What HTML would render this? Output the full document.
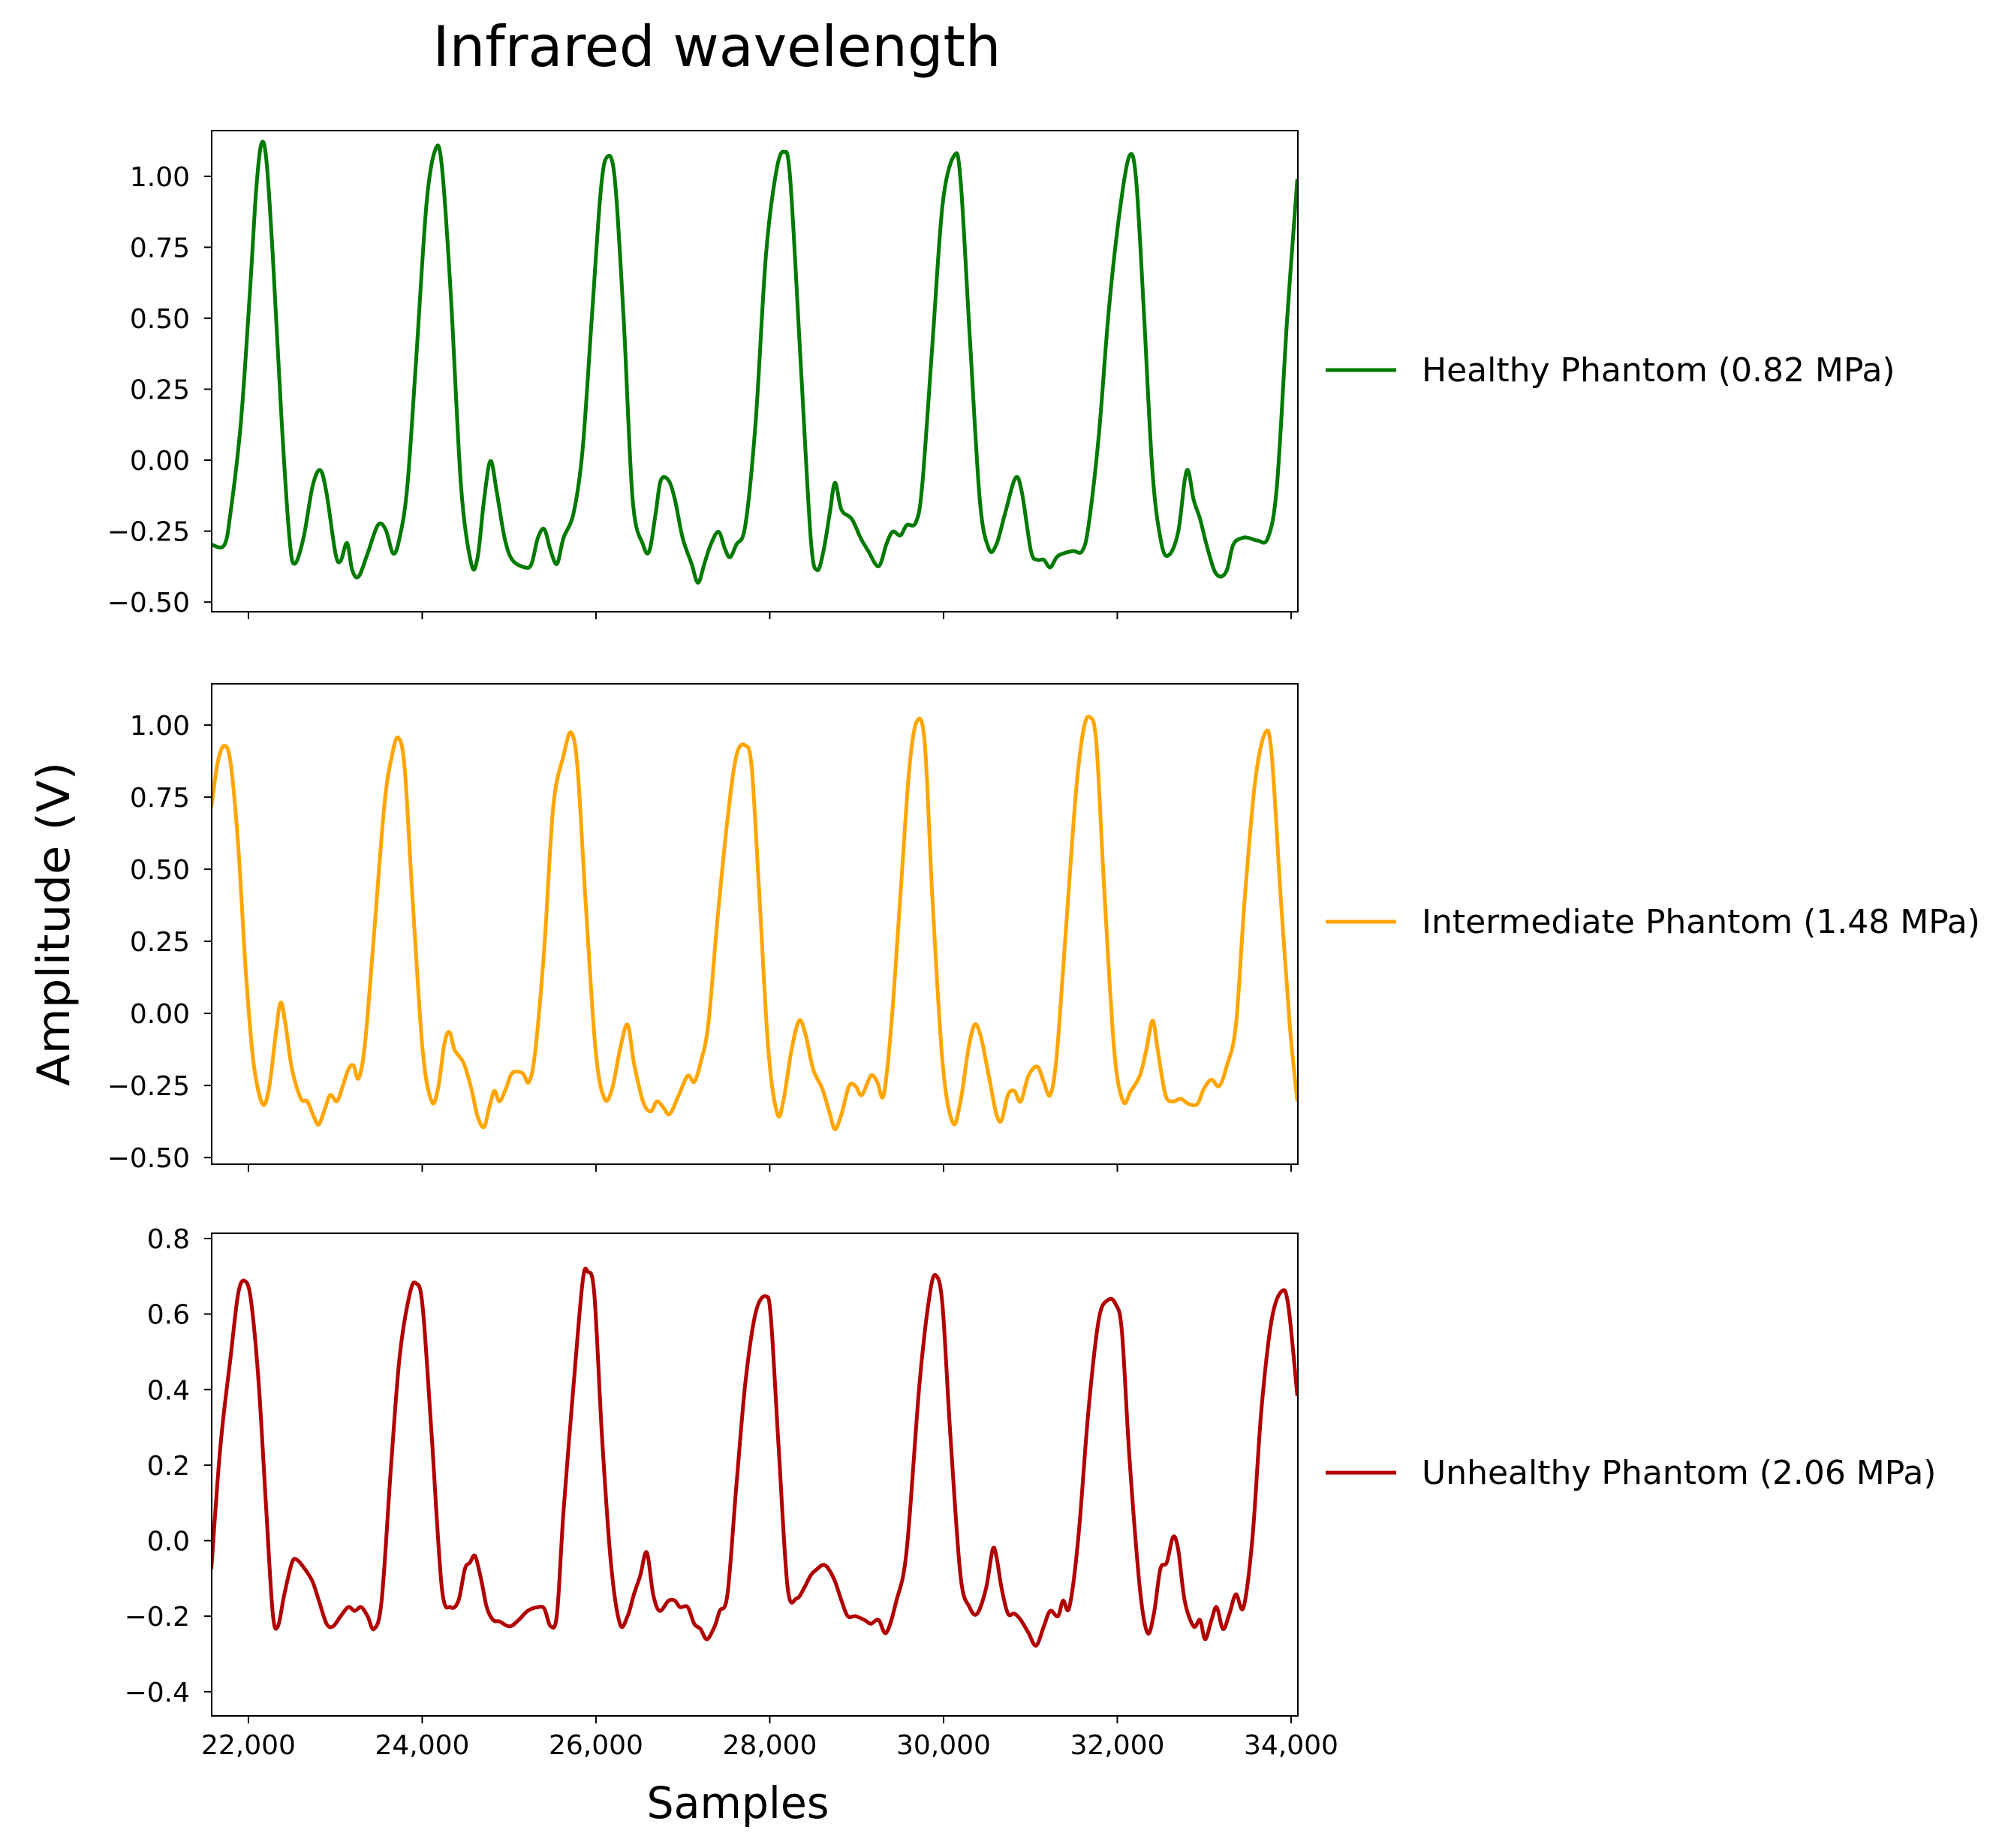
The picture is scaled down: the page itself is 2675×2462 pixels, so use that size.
<!DOCTYPE html>
<html><head><meta charset="utf-8"><style>html,body{margin:0;padding:0;background:#fff}svg{display:block}text{font-family:"DejaVu Sans","Liberation Sans",sans-serif;fill:#000}</style></head>
<body>
<svg id="chart" xmlns="http://www.w3.org/2000/svg" width="2675" height="2462" viewBox="0 0 2675 2462">
<rect width="2675" height="2462" fill="#fff"/>
<text x="955" y="88" font-size="75" text-anchor="middle" textLength="757" lengthAdjust="spacingAndGlyphs">Infrared wavelength</text>
<text x="983" y="2422" font-size="58" text-anchor="middle" textLength="243" lengthAdjust="spacingAndGlyphs">Samples</text>
<text transform="translate(92,1231) rotate(-90)" font-size="60" text-anchor="middle" textLength="432" lengthAdjust="spacingAndGlyphs">Amplitude (V)</text>
<g id="plots"></g>
</svg>
<script>
const xTicks=[22000,24000,26000,28000,30000,32000,34000];
const xTickLabels=["22,000","24,000","26,000","28,000","30,000","32,000","34,000"];
const xDomain=[21577,34078];

const healthyX=[21573,21720,21794,21912,22015,22088,22147,22206,22280,22383,22472,22531,22634,22737,22825,22899,23002,23061,23135,23194,23268,23371,23489,23577,23666,23739,23828,23931,24049,24152,24226,24329,24447,24565,24638,24712,24786,24860,24948,25036,25184,25258,25331,25405,25479,25552,25626,25744,25847,25950,26054,26127,26216,26319,26422,26540,26614,26688,26746,26835,26908,26997,27100,27174,27247,27321,27410,27483,27542,27616,27719,27837,27955,28073,28161,28235,28353,28471,28545,28618,28692,28751,28825,28943,29046,29134,29252,29341,29414,29503,29576,29680,29753,29871,29989,30122,30195,30299,30417,30520,30608,30711,30829,30903,31006,31080,31154,31227,31301,31375,31493,31596,31669,31787,31905,32038,32141,32215,32303,32406,32510,32598,32701,32775,32819,32878,32952,33026,33114,33188,33261,33335,33438,33512,33615,33733,33836,33954,34072];
const healthyY=[-0.297,-0.30,-0.185,0.13,0.583,0.946,1.113,1.059,0.720,0.133,-0.274,-0.365,-0.274,-0.093,-0.035,-0.116,-0.329,-0.355,-0.292,-0.387,-0.410,-0.329,-0.229,-0.243,-0.329,-0.274,-0.093,0.359,0.901,1.095,1.036,0.584,-0.093,-0.365,-0.342,-0.139,-0.003,-0.116,-0.274,-0.351,-0.378,-0.365,-0.274,-0.243,-0.320,-0.365,-0.274,-0.184,0.042,0.494,0.946,1.068,0.991,0.494,-0.139,-0.297,-0.320,-0.184,-0.071,-0.071,-0.139,-0.274,-0.365,-0.432,-0.365,-0.297,-0.252,-0.311,-0.342,-0.297,-0.229,0.133,0.720,1.014,1.086,0.991,0.359,-0.274,-0.387,-0.320,-0.184,-0.080,-0.175,-0.207,-0.274,-0.320,-0.374,-0.297,-0.252,-0.265,-0.229,-0.220,-0.093,0.404,0.901,1.073,0.991,0.449,-0.139,-0.311,-0.297,-0.184,-0.062,-0.116,-0.320,-0.351,-0.351,-0.378,-0.342,-0.329,-0.320,-0.320,-0.229,0.088,0.539,0.901,1.073,0.991,0.539,-0.048,-0.297,-0.333,-0.252,-0.071,-0.039,-0.139,-0.207,-0.297,-0.387,-0.410,-0.387,-0.297,-0.274,-0.274,-0.283,-0.274,-0.093,0.494,0.991];
const healthyTicks=[1.00,0.75,0.50,0.25,0.00,-0.25,-0.50];
const healthyTickLabels=["1.00","0.75","0.50","0.25","0.00","\u22120.25","\u22120.50"];

const interX=[21573,21646,21720,21794,21882,21971,22059,22162,22236,22310,22369,22427,22501,22604,22678,22752,22811,22884,22943,23017,23076,23150,23209,23268,23341,23445,23562,23651,23725,23798,23887,24005,24108,24182,24255,24314,24373,24476,24565,24638,24712,24771,24830,24889,24963,25036,25154,25228,25302,25405,25508,25626,25714,25788,25877,25995,26098,26186,26275,26363,26437,26540,26628,26702,26776,26849,26953,27056,27130,27203,27292,27395,27513,27616,27719,27793,27881,27984,28088,28161,28250,28338,28412,28500,28604,28692,28751,28825,28913,28987,29060,29164,29237,29311,29399,29503,29606,29694,29783,29871,29989,30107,30195,30284,30358,30431,30520,30608,30667,30741,30815,30888,30977,31080,31154,31227,31301,31404,31522,31610,31684,31758,31846,31964,32067,32156,32259,32333,32406,32465,32554,32642,32731,32819,32922,32996,33084,33173,33261,33365,33468,33586,33704,33777,33880,33984,34072];
const interY=[0.716,0.870,0.928,0.870,0.583,0.139,-0.172,-0.314,-0.261,-0.084,0.037,-0.039,-0.194,-0.296,-0.305,-0.358,-0.385,-0.327,-0.283,-0.305,-0.261,-0.194,-0.181,-0.225,-0.105,0.272,0.716,0.894,0.956,0.849,0.405,-0.127,-0.305,-0.261,-0.105,-0.065,-0.127,-0.172,-0.261,-0.358,-0.394,-0.327,-0.269,-0.305,-0.261,-0.207,-0.207,-0.238,-0.127,0.228,0.716,0.894,0.974,0.849,0.405,-0.127,-0.296,-0.261,-0.127,-0.039,-0.172,-0.305,-0.340,-0.305,-0.327,-0.349,-0.283,-0.216,-0.238,-0.172,-0.039,0.316,0.672,0.894,0.929,0.849,0.405,-0.127,-0.349,-0.296,-0.127,-0.025,-0.074,-0.194,-0.261,-0.349,-0.402,-0.349,-0.252,-0.252,-0.283,-0.216,-0.238,-0.283,-0.039,0.405,0.849,1.013,0.938,0.405,-0.172,-0.380,-0.305,-0.127,-0.039,-0.083,-0.216,-0.349,-0.371,-0.283,-0.269,-0.305,-0.216,-0.185,-0.238,-0.283,-0.149,0.272,0.760,0.982,1.027,0.938,0.450,-0.127,-0.305,-0.269,-0.216,-0.127,-0.025,-0.127,-0.283,-0.305,-0.296,-0.314,-0.314,-0.261,-0.230,-0.252,-0.181,-0.039,0.405,0.805,0.974,0.894,0.405,-0.039,-0.305];
const interTicks=[1.00,0.75,0.50,0.25,0.00,-0.25,-0.50];
const interTickLabels=["1.00","0.75","0.50","0.25","0.00","\u22120.25","\u22120.50"];

const unhealthyX=[21573,21676,21794,21882,21956,22029,22118,22206,22280,22339,22413,22501,22560,22649,22737,22811,22899,22973,23061,23150,23223,23297,23371,23445,23533,23636,23739,23857,23931,24005,24108,24226,24329,24417,24491,24550,24609,24683,24742,24815,24889,25007,25110,25213,25331,25405,25479,25552,25626,25744,25847,25906,25980,26068,26171,26275,26363,26437,26510,26584,26658,26732,26835,26908,26967,27056,27130,27203,27277,27365,27424,27513,27616,27719,27837,27955,28014,28102,28206,28309,28397,28471,28545,28618,28677,28751,28825,28898,28987,29090,29164,29252,29341,29458,29576,29724,29842,29915,29989,30078,30195,30299,30387,30490,30564,30608,30667,30741,30815,30888,30977,31065,31154,31227,31316,31375,31448,31552,31669,31787,31891,31979,32053,32141,32259,32347,32421,32495,32569,32642,32701,32775,32878,32952,33011,33084,33143,33217,33291,33365,33453,33556,33659,33777,33895,33969,34072];
const unhealthyY=[-0.075,0.247,0.485,0.654,0.688,0.637,0.417,0.078,-0.193,-0.227,-0.142,-0.058,-0.051,-0.075,-0.108,-0.159,-0.220,-0.227,-0.200,-0.176,-0.186,-0.176,-0.200,-0.234,-0.159,0.180,0.485,0.654,0.681,0.620,0.281,-0.125,-0.176,-0.159,-0.075,-0.058,-0.041,-0.108,-0.176,-0.210,-0.214,-0.227,-0.210,-0.186,-0.176,-0.180,-0.227,-0.193,0.078,0.417,0.688,0.712,0.654,0.281,-0.058,-0.220,-0.200,-0.142,-0.092,-0.031,-0.142,-0.186,-0.159,-0.159,-0.176,-0.176,-0.220,-0.234,-0.261,-0.227,-0.186,-0.142,0.146,0.417,0.603,0.647,0.586,0.247,-0.125,-0.153,-0.125,-0.092,-0.075,-0.064,-0.075,-0.108,-0.159,-0.200,-0.200,-0.210,-0.220,-0.210,-0.244,-0.159,-0.024,0.417,0.654,0.702,0.620,0.281,-0.092,-0.176,-0.193,-0.125,-0.024,-0.041,-0.125,-0.193,-0.193,-0.210,-0.244,-0.278,-0.227,-0.186,-0.200,-0.159,-0.176,0.010,0.349,0.586,0.637,0.627,0.553,0.214,-0.125,-0.244,-0.193,-0.075,-0.058,0.010,-0.024,-0.159,-0.227,-0.210,-0.261,-0.210,-0.176,-0.234,-0.193,-0.142,-0.176,0.010,0.349,0.586,0.661,0.620,0.383];
const unhealthyTicks=[0.8,0.6,0.4,0.2,0.0,-0.2,-0.4];
const unhealthyTickLabels=["0.8","0.6","0.4","0.2","0.0","\u22120.2","\u22120.4"];

const NS="http://www.w3.org/2000/svg";
const root=document.getElementById('plots');
function mk(tag,attrs,parent){const e=document.createElementNS(NS,tag);for(const k in attrs)e.setAttribute(k,attrs[k]);parent.appendChild(e);return e;}
const L=282,R=1729;
function sx(v){return L+(v-xDomain[0])/(xDomain[1]-xDomain[0])*(R-L);}

function panel(key,top,bot,yDom,xs,ys,ticks,tickLabels,color,legendLabel,legendY,showXLabels){
  const g=mk('g',{},root);
  
  
  const sy=v=>bot-(v-yDom[0])/(yDom[1]-yDom[0])*(bot-top);
  const cid='clip-'+key;
  const cp=mk('clipPath',{id:cid},g);mk('rect',{x:L,y:top,width:R-L,height:bot-top},cp);
  const P=xs.map((x,i)=>[sx(x),sy(ys[i])]);
  let d='M'+P[0][0].toFixed(1)+','+P[0][1].toFixed(1);
  for(let i=0;i<P.length-1;i++){
    const p0=P[Math.max(0,i-1)],p1=P[i],p2=P[i+1],p3=P[Math.min(P.length-1,i+2)];
    const c1=[p1[0]+(p2[0]-p0[0])/6,p1[1]+(p2[1]-p0[1])/6];
    const c2=[p2[0]-(p3[0]-p1[0])/6,p2[1]-(p3[1]-p1[1])/6];
    d+=' C'+c1[0].toFixed(1)+','+c1[1].toFixed(1)+' '+c2[0].toFixed(1)+','+c2[1].toFixed(1)+' '+p2[0].toFixed(1)+','+p2[1].toFixed(1);
  }
  const line=mk('path',{d:d,fill:'none',stroke:color,'stroke-width':5,'stroke-linejoin':'round','clip-path':'url(#'+cid+')'},g);
  
  
  const frame=mk('rect',{x:L,y:top,width:R-L,height:bot-top,fill:'none',stroke:'#000','stroke-width':2},g);
  
  
  ticks.forEach((t,i)=>{
    const y=sy(t);
    const tk=mk('line',{x1:L-10,x2:L,y1:y,y2:y,stroke:'#000','stroke-width':2},g);
    
    
    const tl=mk('text',{x:L-29,y:y+13,'font-size':36,'text-anchor':'end'},g);
    
    
    tl.textContent=tickLabels[i];
  });
  xTicks.forEach((t,i)=>{
    const x=sx(t);
    const tk=mk('line',{x1:x,x2:x,y1:bot,y2:bot+10,stroke:'#000','stroke-width':2},g);
    
    
    if(showXLabels){
      const tl=mk('text',{x:x,y:2337,'font-size':36,'text-anchor':'middle'},g);
      
      
      tl.textContent=xTickLabels[i];
    }
  });
  const lg=mk('g',{},g);
  
  
  mk('line',{x1:1766,x2:1860,y1:legendY,y2:legendY,stroke:color,'stroke-width':5},lg);
  const lt=mk('text',{x:1894,y:legendY+15,'font-size':44},lg);
  lt.textContent=legendLabel;
}
panel('healthy',174,815,[-0.534,1.161],healthyX,healthyY,healthyTicks,healthyTickLabels,'#007a00','Healthy Phantom (0.82 MPa)',493,false);
panel('intermediate',911,1551,[-0.523,1.143],interX,interY,interTicks,interTickLabels,'#ffa500','Intermediate Phantom (1.48 MPa)',1228,false);
panel('unhealthy',1643,2286,[-0.464,0.814],unhealthyX,unhealthyY,unhealthyTicks,unhealthyTickLabels,'#b20000','Unhealthy Phantom (2.06 MPa)',1962,true);
</script>
</body></html>
